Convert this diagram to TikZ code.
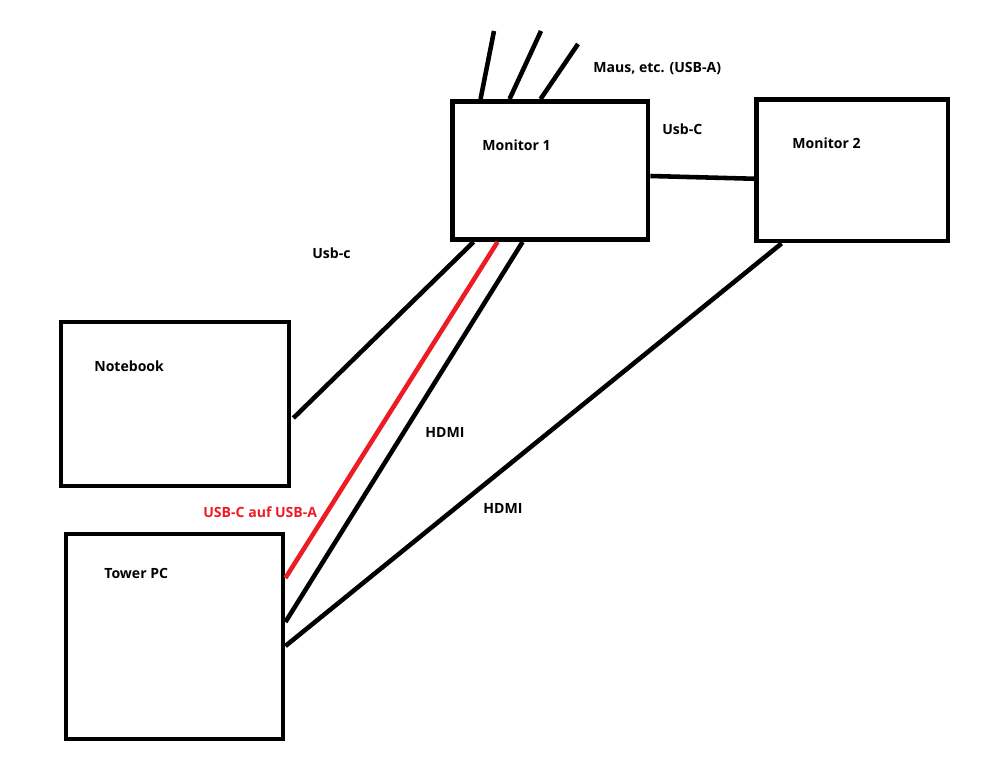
\documentclass[tikz,border=0pt]{standalone}
\usepackage{fontspec}
\setmainfont{Open Sans}
\usetikzlibrary{calc}

\definecolor{paintred}{RGB}{237,28,36}

\begin{document}
\begin{tikzpicture}[x=0.02cm, y=-0.02cm,
    device/.style={draw, line width=2.8pt, rectangle},
    cable/.style={line width=2.6pt},
    lbl/.style={anchor=west, inner sep=0pt, font=\fontsize{8}{10}\selectfont\bfseries}]
  \useasboundingbox (0,0) rectangle (994,763);
  % boxes
  \node[device, minimum width=3.91cm, minimum height=2.76cm] (mon1) at (550.25,170.5) {};
  \node[device, minimum width=3.83cm, minimum height=2.83cm] (mon2) at (852.25,170.25) {};
  \node[device, minimum width=4.56cm, minimum height=3.28cm] (nb) at (175,404) {};
  \node[device, minimum width=4.34cm, minimum height=4.10cm] (pc) at (174.5,636.5) {};
  % labels
  \node[lbl] (t1) at (482,145) {Monitor 1};
  \node[lbl] (t2) at (792,143) {Monitor 2};
  \node[lbl] (t3) at (94,366) {Notebook};
  \node[lbl] (t4) at (104,573) {Tower PC};
  \node[lbl] (l1) at (593,69) {Maus, etc. (USB-A)};
  \node[lbl] (l2) at (662,129) {Usb-C};
  \node[lbl] (l3) at (312,253) {Usb-c};
  \node[lbl] (l4) at (425,432) {HDMI};
  \node[lbl] (l5) at (483,508) {HDMI};
  \node[lbl, text=paintred] (l6) at (203,512) {USB-C auf USB-A};
  % free ends of the usb-a cables
  \coordinate (a1) at (494,31);
  \coordinate (a2) at (541,31);
  \coordinate (a3) at (578,44);
  \draw[cable] ($(mon1.north west)+(30.5,0)$) -- (a1);
  \draw[cable] ($(mon1.north west)+(59.5,0)$) -- (a2);
  \draw[cable] ($(mon1.north west)+(90.5,0)$) -- (a3);
  % cables
  \draw[cable] ($(mon1.east)+(0,5.5)$) -- ($(mon2.west)+(0,8.5)$);
  \draw[cable] ($(nb.east)+(2,14)$) -- ($(mon1.south west)+(23.5,0)$);
  \draw[cable, paintred] ($(pc.east)+(0,-58.5)$) -- ($(mon1.south west)+(47.5,0)$);
  \draw[cable] ($(pc.east)+(0,-14.5)$) -- ($(mon1.south west)+(72.5,0)$);
  \draw[cable] ($(pc.east)+(0,9.5)$) -- ($(mon2.south west)+(27.5,0)$);
\end{tikzpicture}
\end{document}
